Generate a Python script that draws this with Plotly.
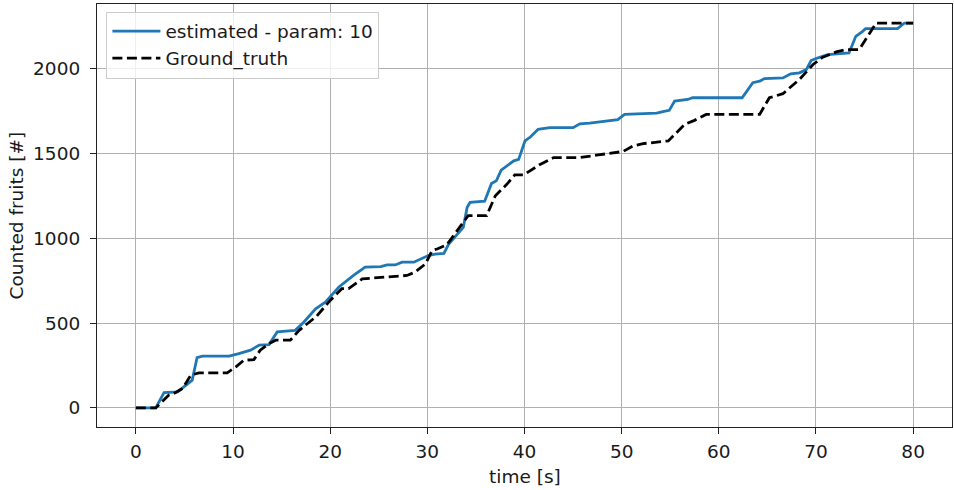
import plotly.graph_objects as go

est_t = [0, 2.05, 2.9, 4.3, 5.8, 6.3, 6.85, 9.6, 10.6, 11.8, 12.7, 13.7, 14.55, 16.4, 17.3, 18.5, 19.5, 20.9, 22.4, 23.3, 23.6, 25.2, 25.85, 26.7, 27.4, 28.6, 30.1, 30.8, 31.7, 32.2, 33.7, 34.1, 34.4, 35.9, 36.6, 37.1, 37.6, 38.9, 39.4, 40.05, 40.6, 41.4, 42.6, 45.0, 45.7, 46.7, 47.75, 48.8, 49.6, 50.3, 52.2, 53.6, 54.25, 54.9, 55.45, 56.1, 56.8, 57.3, 62.4, 63.5, 64.2, 64.7, 66.6, 67.4, 68.3, 69.0, 69.5, 70.0, 71.2, 73.4, 74.1, 74.8, 75.1, 78.4, 79.1, 80]
est_v = [0, 0, 90, 95, 164, 297, 305, 305, 320, 340, 370, 373, 448, 457, 506, 584, 623, 712, 780, 819, 829, 832, 842, 842, 858, 858, 897, 906, 910, 965, 1063, 1181, 1211, 1217, 1322, 1337, 1400, 1455, 1463, 1572, 1595, 1640, 1650, 1650, 1673, 1677, 1683, 1693, 1697, 1728, 1732, 1735, 1744, 1752, 1806, 1810, 1816, 1826, 1826, 1915, 1924, 1939, 1943, 1967, 1973, 1992, 2045, 2057, 2080, 2090, 2188, 2217, 2233, 2233, 2266, 2266]

gt_t = [0, 2.05, 3.4, 3.9, 4.8, 5.65, 6.5, 9.4, 10.3, 11.1, 12.15, 12.8, 13.7, 14.4, 15.9, 16.8, 18.6, 20.0, 21.2, 21.9, 23.3, 27.9, 28.75, 29.8, 30.5, 31.0, 32.0, 34.2, 36.1, 37.0, 38.2, 39.0, 39.9, 41.5, 43.0, 45.7, 47.4, 50.15, 51.2, 52.2, 54.8, 56.5, 57.5, 58.7, 64.2, 65.2, 66.6, 68.3, 69.7, 70.7, 72.1, 73.1, 74.45, 76.2, 80]
gt_v = [0, 0, 76, 85, 115, 193, 207, 207, 242, 281, 285, 340, 379, 399, 399, 457, 540, 633, 702, 702, 760, 780, 800, 848, 927, 936, 960, 1132, 1132, 1249, 1318, 1372, 1372, 1430, 1474, 1474, 1488, 1510, 1543, 1556, 1572, 1670, 1693, 1728, 1728, 1826, 1850, 1934, 2022, 2065, 2096, 2110, 2110, 2266, 2266]

x_ticks = [0, 10, 20, 30, 40, 50, 60, 70, 80]
y_ticks = [0, 500, 1000, 1500, 2000]

FS = 18.5
FONT = "DejaVu Sans"
TXT = "#1a1a1a"

fig = go.Figure()
fig.add_trace(go.Scatter(x=est_t, y=est_v, mode="lines", name="estimated - param: 10",
                         line=dict(color="#1f77b4", width=2.8)))
fig.add_trace(go.Scatter(x=gt_t, y=gt_v, mode="lines", name="Ground_truth",
                         line=dict(color="black", width=2.8, dash="10px,4.5px")))

axis_common = dict(showline=True, linecolor="#222", linewidth=1.2, mirror=True,
                   ticks="outside", ticklen=6, tickcolor="#222", tickwidth=1.2,
                   showgrid=True, gridcolor="#b0b0b0", gridwidth=1.2, zeroline=False,
                   automargin=False,
                   tickfont=dict(family=FONT, size=FS, color=TXT))

fig.update_layout(
    width=954, height=490,
    margin=dict(l=97, r=2, t=4, b=63),
    plot_bgcolor="white", paper_bgcolor="white",
    font=dict(family=FONT, size=FS, color=TXT),
    xaxis=dict(range=[-4, 84], tickvals=x_ticks, ticktext=[str(v) for v in x_ticks],
               ticklabelstandoff=2, **axis_common),
    yaxis=dict(range=[-112, 2378], tickvals=y_ticks, ticktext=[str(v) for v in y_ticks],
               ticklabelstandoff=6, **axis_common),
    legend=dict(x=0.011, y=0.982, xanchor="left", yanchor="top",
                bgcolor="rgba(255,255,255,0.8)", bordercolor="#cccccc", borderwidth=1,
                font=dict(family=FONT, size=FS, color=TXT),
                itemwidth=48, tracegroupgap=0),
    showlegend=True,
    annotations=[
        dict(text="time [s]", xref="paper", yref="paper", x=0.5, y=0, yshift=-49,
             xanchor="center", yanchor="middle", showarrow=False,
             font=dict(family=FONT, size=FS, color=TXT)),
        dict(text="Counted fruits [#]", xref="paper", yref="paper", x=0, y=0.5, xshift=-81,
             xanchor="center", yanchor="middle", textangle=-90, showarrow=False,
             font=dict(family=FONT, size=FS, color=TXT)),
    ],
)

fig.write_html("out.html", config={"displayModeBar": False},
               post_script="document.body.style.margin='0';document.body.style.overflow='hidden';")
